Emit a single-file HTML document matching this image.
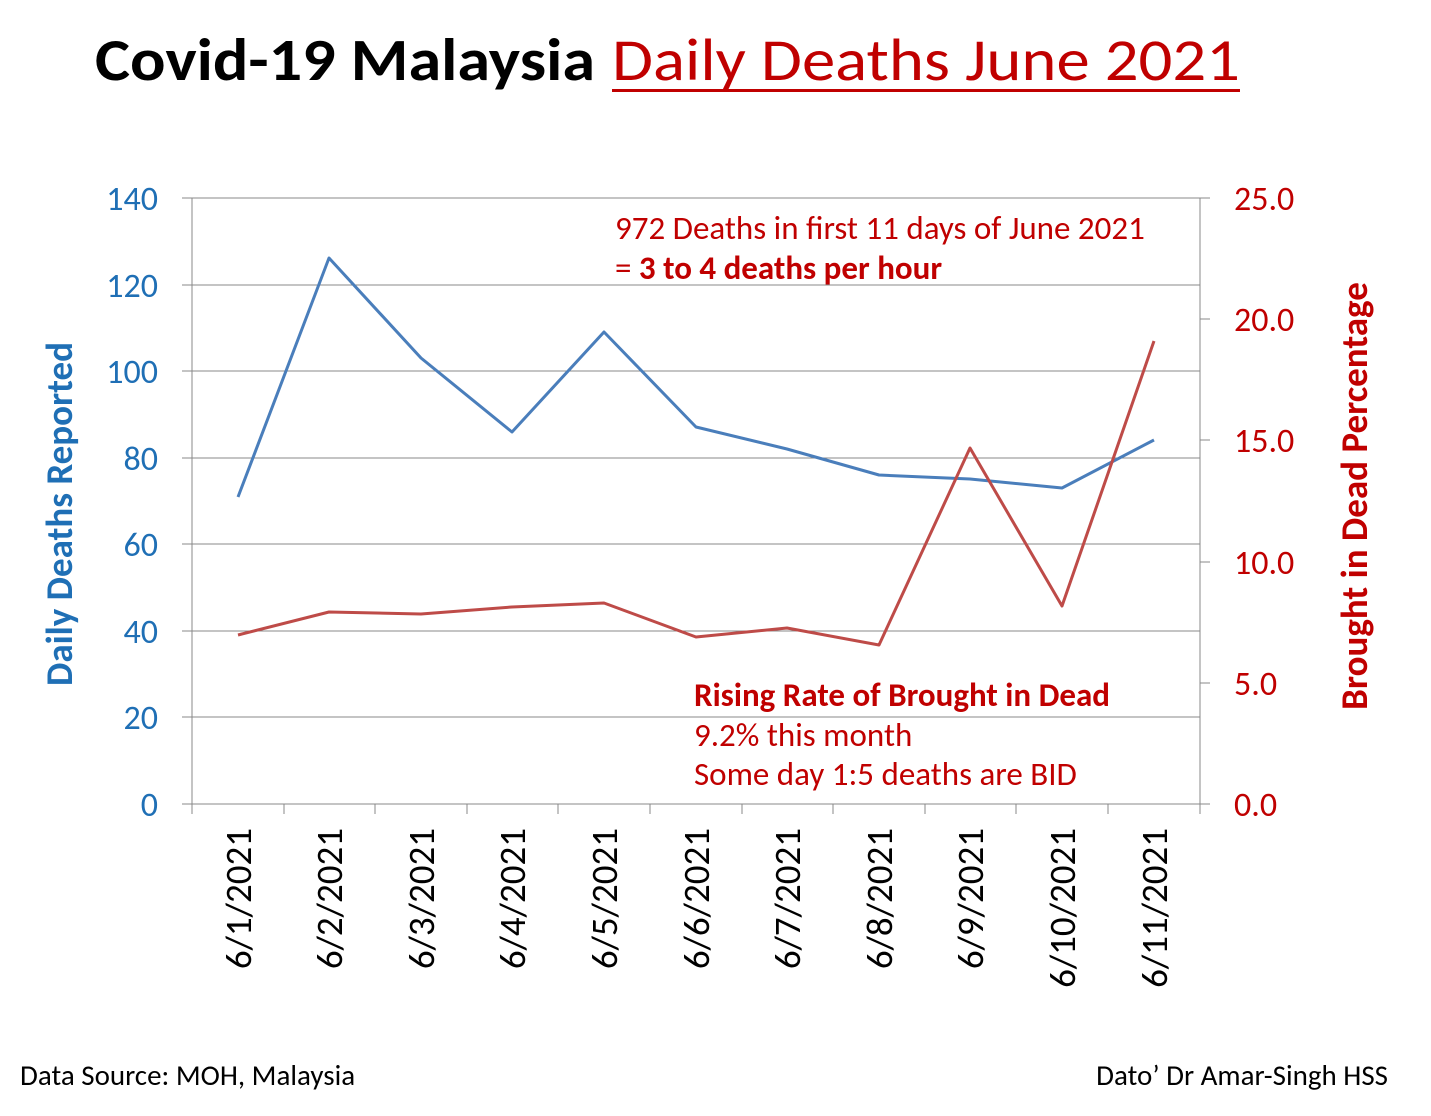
<!DOCTYPE html>
<html><head><meta charset="utf-8"><style>
body{margin:0;background:#fff;}
svg text{font-family:Carlito,"Liberation Sans",sans-serif;}
</style></head><body>
<svg width="1431" height="1111" viewBox="0 0 1431 1111" xmlns="http://www.w3.org/2000/svg">
<rect width="1431" height="1111" fill="#fff"/>
<text x="95" y="80" font-size="60" font-weight="bold" fill="#000" textLength="500" lengthAdjust="spacingAndGlyphs">Covid-19 Malaysia</text>
<text x="612" y="80" font-size="60" fill="#c00000" textLength="628" lengthAdjust="spacingAndGlyphs">Daily Deaths June 2021</text>
<rect x="612" y="89" width="628" height="3" fill="#c00000"/>
<g stroke="#888" stroke-width="1">
<line x1="192" y1="198" x2="1200" y2="198"/><line x1="192" y1="285" x2="1200" y2="285"/>
<line x1="192" y1="371" x2="1200" y2="371"/><line x1="192" y1="458" x2="1200" y2="458"/>
<line x1="192" y1="544" x2="1200" y2="544"/><line x1="192" y1="631" x2="1200" y2="631"/>
<line x1="192" y1="717" x2="1200" y2="717"/><line x1="182" y1="804" x2="1210" y2="804"/>
<line x1="192" y1="198" x2="192" y2="814"/><line x1="1200" y1="198" x2="1200" y2="814"/>
<line x1="182" y1="198" x2="192" y2="198"/><line x1="182" y1="285" x2="192" y2="285"/><line x1="182" y1="371" x2="192" y2="371"/><line x1="182" y1="458" x2="192" y2="458"/><line x1="182" y1="544" x2="192" y2="544"/><line x1="182" y1="631" x2="192" y2="631"/><line x1="182" y1="717" x2="192" y2="717"/>
<line x1="1200" y1="198" x2="1210" y2="198"/><line x1="1200" y1="319" x2="1210" y2="319"/><line x1="1200" y1="440" x2="1210" y2="440"/><line x1="1200" y1="562" x2="1210" y2="562"/><line x1="1200" y1="683" x2="1210" y2="683"/>
<line x1="284" y1="804" x2="284" y2="814"/><line x1="375" y1="804" x2="375" y2="814"/><line x1="467" y1="804" x2="467" y2="814"/><line x1="558" y1="804" x2="558" y2="814"/><line x1="650" y1="804" x2="650" y2="814"/><line x1="742" y1="804" x2="742" y2="814"/><line x1="833" y1="804" x2="833" y2="814"/><line x1="925" y1="804" x2="925" y2="814"/><line x1="1016" y1="804" x2="1016" y2="814"/><line x1="1108" y1="804" x2="1108" y2="814"/>
</g>
<g font-size="34" fill="#1f6fb5" text-anchor="end">
<text x="158" y="210">140</text><text x="158" y="297">120</text><text x="158" y="383">100</text><text x="158" y="470">80</text><text x="158" y="556">60</text><text x="158" y="643">40</text><text x="158" y="729">20</text><text x="158" y="816">0</text>
</g>
<g font-size="34" fill="#c00000">
<text x="1234" y="210">25.0</text><text x="1234" y="331">20.0</text><text x="1234" y="452">15.0</text><text x="1234" y="574">10.0</text><text x="1234" y="695">5.0</text><text x="1234" y="816">0.0</text>
</g>
<text transform="translate(72,514) rotate(-90)" font-size="37" font-weight="bold" fill="#1f6fb5" text-anchor="middle">Daily Deaths Reported</text>
<text transform="translate(1367,496) rotate(-90)" font-size="37" font-weight="bold" fill="#c00000" text-anchor="middle">Brought in Dead Percentage</text>
<g font-size="37" fill="#000" text-anchor="end">
<text transform="translate(251,828) rotate(-90)">6/1/2021</text>
<text transform="translate(342,828) rotate(-90)">6/2/2021</text>
<text transform="translate(434,828) rotate(-90)">6/3/2021</text>
<text transform="translate(525,828) rotate(-90)">6/4/2021</text>
<text transform="translate(617,828) rotate(-90)">6/5/2021</text>
<text transform="translate(709,828) rotate(-90)">6/6/2021</text>
<text transform="translate(800,828) rotate(-90)">6/7/2021</text>
<text transform="translate(892,828) rotate(-90)">6/8/2021</text>
<text transform="translate(983,828) rotate(-90)">6/9/2021</text>
<text transform="translate(1075,828) rotate(-90)">6/10/2021</text>
<text transform="translate(1167,828) rotate(-90)">6/11/2021</text>
</g>
<polyline fill="none" stroke="#4a7ebb" stroke-width="3" stroke-linejoin="round" points="238,497 329,258 421,358 512,432 604,332 696,427 787,449 879,475 970,479 1062,488 1154,440"/>
<polyline fill="none" stroke="#be4b48" stroke-width="3" stroke-linejoin="round" points="238,635 329,612 421,614 512,607 604,603 696,637 787,628 879,645 970,448 1062,606 1154,341"/>
<text x="615" y="239" font-size="33" fill="#c00000">972 Deaths in first 11 days of June 2021</text>
<text x="615" y="279" font-size="33" fill="#c00000">= <tspan font-weight="bold">3 to 4 deaths per hour</tspan></text>
<text x="694" y="706" font-size="33" font-weight="bold" fill="#c00000">Rising Rate of Brought in Dead</text>
<text x="694" y="746" font-size="33" fill="#c00000">9.2% this month</text>
<text x="694" y="785" font-size="33" fill="#c00000">Some day 1:5 deaths are BID</text>
<text x="20" y="1085" font-size="29" fill="#000">Data Source:  MOH, Malaysia</text>
<text x="1388" y="1085" font-size="29" fill="#000" text-anchor="end">Dato’ Dr Amar-Singh HSS</text>
</svg>
</body></html>
